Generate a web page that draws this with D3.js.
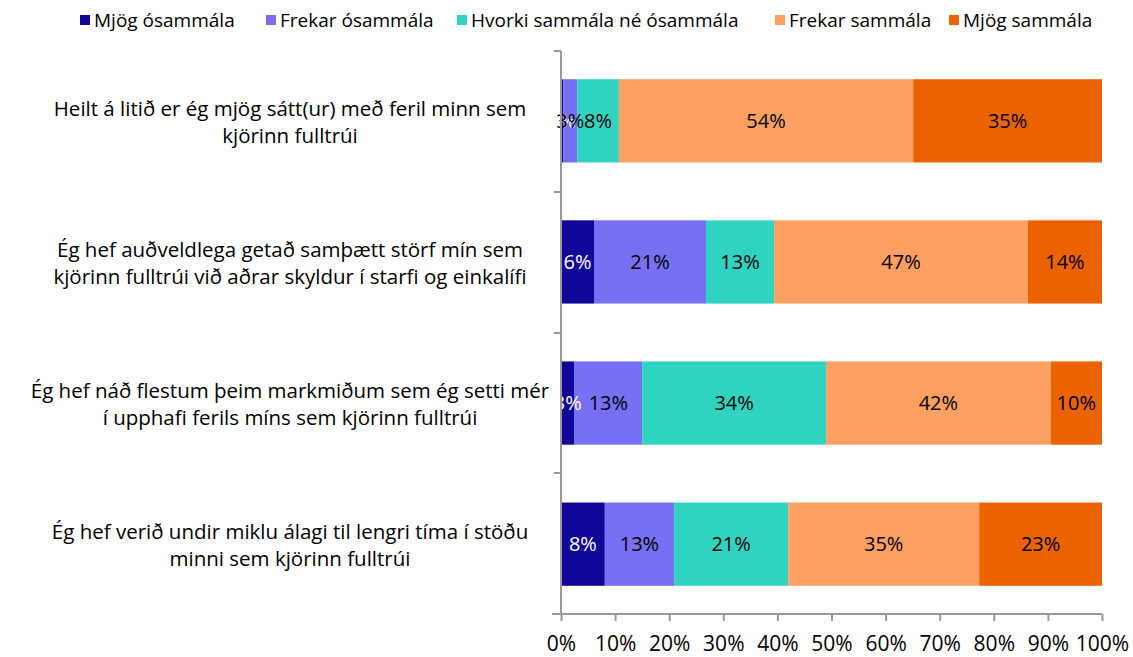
<!DOCTYPE html>
<html>
<head>
<meta charset="utf-8">
<script src="https://cdn.jsdelivr.net/npm/d3@7"></script>
<style>
  body { margin: 0; background: #fff; }
  svg text { font-family: "Open Sans", "Lato", sans-serif; }
</style>
</head>
<body>
<svg id="chart"></svg>
<script>
const categories = [
    ["Heilt á litið er ég mjög sátt(ur) með feril minn sem", "kjörinn fulltrúi"],
    ["Ég hef auðveldlega getað samþætt störf mín sem", "kjörinn fulltrúi við aðrar skyldur í starfi og einkalífi"],
    ["Ég hef náð flestum þeim markmiðum sem ég setti mér", "í upphafi ferils míns sem kjörinn fulltrúi"],
    ["Ég hef verið undir miklu álagi til lengri tíma í stöðu", "minni sem kjörinn fulltrúi"]
];
const seriesNames = ["Mjög ósammála", "Frekar ósammála", "Hvorki sammála né ósammála", "Frekar sammála", "Mjög sammála"];
const seriesColors = ["#12069a", "#7770f4", "#30d3c0", "#fea062", "#eb6200"];
const labelColors = ["#fff", "#000", "#000", "#000", "#000"];
const values = [
    [0.4, 2.6, 7.7, 54.4, 34.9],
    [6.1, 20.7, 12.6, 46.9, 13.7],
    [2.5, 12.5, 34.0, 41.5, 9.5],
    [8.1, 12.8, 21.1, 35.3, 22.7]
];
const xTicks = [0, 10, 20, 30, 40, 50, 60, 70, 80, 90, 100];

function draw() {
    const width = 1133, height = 657;
    const svg = d3.select("#chart").attr("width", width).attr("height", height);

    const x = d3.scaleLinear().domain([0, 100]).range([561, 1102]);
    const y = d3.scaleBand().domain(d3.range(categories.length)).range([51, 614]).paddingInner(0.41).paddingOuter(0.2);

    // stacked segments
    const rows = values.map((vals, i) => {
        let acc = 0;
        return vals.map((v, j) => {
            const seg = { row: i, s: j, x0: acc, x1: acc + v, v };
            acc += v;
            return seg;
        });
    });

    const g = svg.append("g");
    rows.forEach(segs => {
        g.selectAll(null)
            .data(segs)
            .enter()
            .append("rect")
            .attr("x", d => x(d.x0))
            .attr("y", d => y(d.row))
            .attr("width", d => x(d.x1) - x(d.x0))
            .attr("height", y.bandwidth())
            .attr("fill", d => seriesColors[d.s]);
        g.selectAll(null)
            .data(segs)
            .enter()
            .append("text")
            .attr("x", d => (x(d.x0) + x(d.x1)) / 2)
            .attr("y", d => y(d.row) + y.bandwidth() / 2)
            .attr("dy", "0.35em")
            .attr("text-anchor", "middle")
            .style("font-size", "20px")
            .attr("fill", d => labelColors[d.s])
            .text(d => Math.round(d.v) + "%");
    });

    // axes
    const xAxis = svg.append("g")
        .attr("transform", "translate(0,614)")
        .call(d3.axisBottom(x).tickValues(xTicks).tickSize(7).tickSizeOuter(0).tickFormat(d => d + "%"));
    xAxis.select(".domain").attr("stroke", "#999").attr("stroke-width", 2).attr("d", "M552,0H1102");
    xAxis.selectAll(".tick line").attr("stroke", "#999").attr("stroke-width", 2);
    xAxis.selectAll(".tick text").attr("y", 22).style("font-size", "21px").attr("fill", "#000");

    const yAxis = svg.append("g")
        .attr("transform", "translate(561,0)")
        .call(d3.axisLeft(y).tickSize(7).tickSizeOuter(0).tickFormat(""));
    yAxis.select(".domain").attr("stroke", "#999").attr("stroke-width", 2).attr("d", "M0,51V614");
    yAxis.selectAll(".tick").remove();
    [51, 192, 333, 473, 614].forEach(v => {
        yAxis.append("line").attr("x1", -7).attr("x2", 0).attr("y1", v).attr("y2", v)
            .attr("stroke", "#999").attr("stroke-width", 2);
    });

    // category labels
    categories.forEach((lines, i) => {
        const cy = y(i) + y.bandwidth() / 2;
        const t = svg.append("text")
            .attr("x", 290)
            .attr("y", cy - 12)
            .attr("text-anchor", "middle")
            .style("font-size", "20.5px")
            .attr("fill", "#000");
        lines.forEach((ln, k) => {
            t.append("tspan").attr("x", 290).attr("dy", k === 0 ? "0.35em" : "27px").text(ln);
        });
    });

    // legend
    const legendX = [80, 266, 457, 775, 949];
    const legend = svg.append("g");
    seriesNames.forEach((name, i) => {
        legend.append("rect").attr("x", legendX[i]).attr("y", 15).attr("width", 10).attr("height", 10)
            .attr("fill", seriesColors[i]);
        legend.append("text").attr("x", legendX[i] + 14).attr("y", 20).attr("dy", "0.35em")
            .style("font-size", "19px").attr("fill", "#000").text(name);
    });
}

draw();
</script>
</body>
</html>
